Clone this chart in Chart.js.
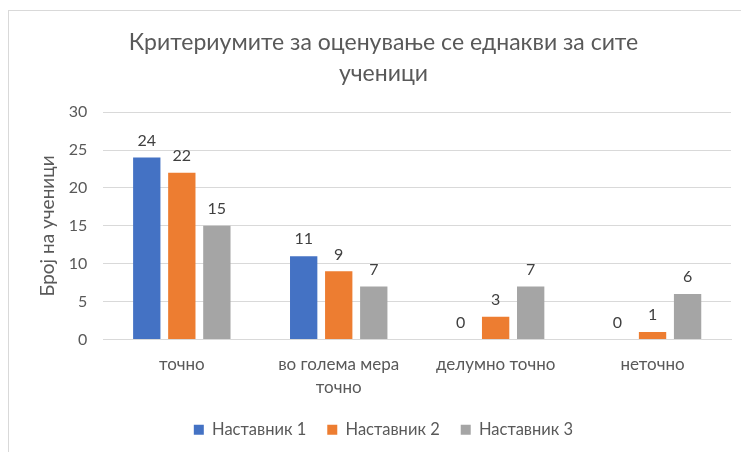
<!DOCTYPE html>
<html><head><meta charset="utf-8">
<script src="https://cdn.jsdelivr.net/npm/chart.js@4"></script>
<style>
html,body{margin:0;padding:0;background:#fff;}
#wrap{position:relative;width:741px;height:452px;overflow:hidden;}
#frame{position:absolute;left:8px;top:10px;width:800px;height:600px;border:1px solid #d9d9d9;box-sizing:border-box;}
canvas{position:absolute;left:0;top:0;}
</style></head>
<body><div id="wrap"><div id="frame"></div><canvas id="c" width="741" height="452"></canvas></div>
<script>
const titleLines = ["Критериумите за оценување се еднакви за сите", "ученици"];
const yAxisTitle = "Број на ученици";
const categories = [["точно"], ["во голема мера", "точно"], ["делумно точно"], ["неточно"]];
const seriesNames = ["Наставник 1", "Наставник 2", "Наставник 3"];
const nastavnik1 = [24, 11, 0, 0];
const nastavnik2 = [22, 9, 3, 1];
const nastavnik3 = [15, 7, 7, 6];
const seriesColors = ["#4472C4", "#ED7D31", "#A5A5A5"];
const yTicks = [0, 5, 10, 15, 20, 25, 30];

const FONT = "Lato, Roboto, 'Liberation Sans', sans-serif";
const TXT = "#595959";

const labelPlugin = {
  id: 'barLabels',
  afterDatasetsDraw(chart) {
    const ctx = chart.ctx;
    ctx.save();
    ctx.font = "16px " + FONT;
    ctx.fillStyle = "#404040";
    ctx.textAlign = "center";
    ctx.textBaseline = "bottom";
    chart.data.datasets.forEach((ds, i) => {
      const meta = chart.getDatasetMeta(i);
      meta.data.forEach((bar, j) => {
        ctx.fillText(String(ds.data[j]), bar.x, bar.y - 9);
      });
    });
    ctx.restore();
  }
};

new Chart(document.getElementById('c'), {
  type: 'bar',
  data: {
    labels: categories,
    datasets: seriesNames.map((n, i) => ({
      label: n,
      data: [nastavnik1, nastavnik2, nastavnik3][i],
      backgroundColor: seriesColors[i],
      borderWidth: 0,
      barPercentage: 0.78,
      categoryPercentage: 0.67
    }))
  },
  options: {
    responsive: false,
    animation: false,
    devicePixelRatio: 1,
    layout: { padding: { left: 36, right: 10, top: 27, bottom: 4 } },
    plugins: {
      title: {
        display: true,
        text: titleLines,
        color: TXT,
        font: { family: FONT, size: 23, weight: 'normal', lineHeight: 1.35 },
        padding: { top: 0, bottom: 23 }
      },
      legend: {
        position: 'bottom',
        labels: {
          color: TXT,
          font: { family: FONT, size: 16.5 },
          boxWidth: 10, boxHeight: 10,
          padding: 21
        }
      },
      tooltip: { enabled: false }
    },
    scales: {
      x: {
        afterFit(s) { s.height -= 11; },
        grid: { display: false, drawTicks: false },
        border: { display: true, color: '#d9d9d9', width: 1 },
        ticks: { color: TXT, font: { family: FONT, size: 17, lineHeight: 1.35 }, padding: 13, maxRotation: 0 }
      },
      y: {
        min: 0, max: 30,
        afterBuildTicks(s) { s.ticks = yTicks.map(v => ({ value: v })); },
        grid: { color: '#d9d9d9', drawTicks: false },
        border: { display: false },
        ticks: { color: TXT, font: { family: FONT, size: 16 }, padding: 16 },
        title: { display: true, text: yAxisTitle, color: TXT, font: { family: FONT, size: 19 }, padding: { top: 0, bottom: -6 } }
      }
    }
  },
  plugins: [labelPlugin]
});
</script></body></html>
